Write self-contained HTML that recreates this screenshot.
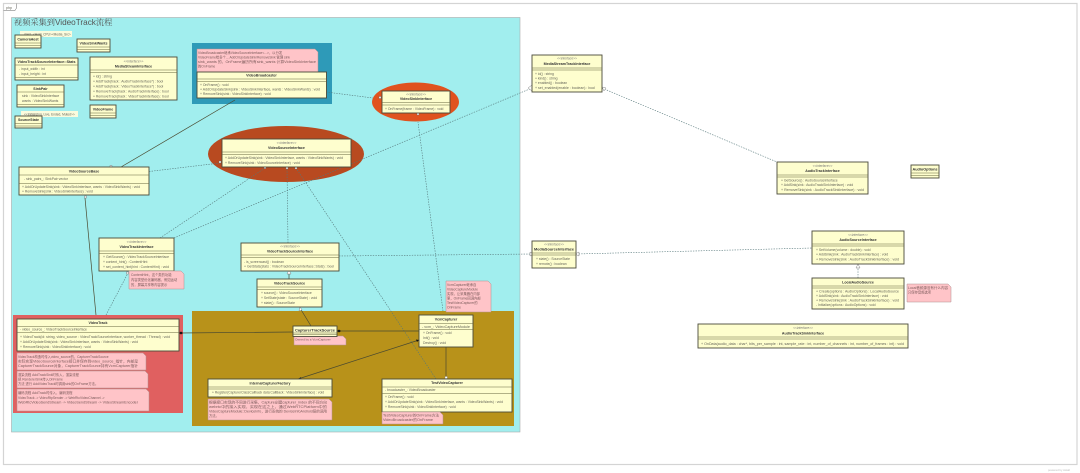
<!DOCTYPE html>
<html><head><meta charset="utf-8">
<style>
html,body{margin:0;padding:0;background:#fff}
svg{display:block}
text{font-family:"Liberation Sans","Noto Sans CJK SC",sans-serif;font-size:3.4px;fill:#66665a}
.t{font-weight:bold;text-anchor:middle;fill:#333;font-size:3.6px}
.s{text-anchor:middle;font-style:italic;fill:#777;font-size:3.2px}
.c{fill:#FEFECE;stroke:#4a4a3a;stroke-width:.9}
.n{fill:#FFC4C8;stroke:#b09090;stroke-width:.5}
.m{fill:#7a5a5a;font-size:3.3px}
.l{fill:none;stroke:#55777a;stroke-width:.6;stroke-dasharray:1.4 1.2}
.p{fill:none;stroke:#4a4a30;stroke-width:.7}
.h{fill:#fff;stroke:#666;stroke-width:.4}
.sep{stroke:#66663f;stroke-width:.5}
</style></head><body>
<svg width="1080" height="473" viewBox="0 0 1080 473" xmlns="http://www.w3.org/2000/svg">
<rect width="1080" height="473" fill="#fff"/>
<rect x="3.5" y="3.5" width="1073.5" height="461" fill="#fff" stroke="#d4d4d4" stroke-width="1.2"/>
<path d="M3.5 10.5H15L16.5 8V3.5" fill="#fff" stroke="#666" stroke-width=".5"/>
<text x="6" y="9" style="font-size:3.6px">php</text>
<text x="1048" y="471" style="font-size:2.8px;fill:#bbb">powered by Astah</text>

<rect x="11.5" y="17.5" width="508.5" height="414.5" fill="#A1EEEE" stroke="#aaa" stroke-width=".6"/>
<text x="14" y="25" style="font-size:8.2px;font-family:'Liberation Sans','Noto Serif CJK SC',serif;fill:#555">视频采集到VideoTrack流程</text>

<rect x="192" y="43" width="140" height="61" fill="#2E9AB8"/>
<rect x="13" y="315" width="170" height="98" fill="#E06060"/>
<rect x="192" y="311" width="322" height="115" fill="#B8921A"/>
<ellipse cx="415.5" cy="102" rx="43.5" ry="19.5" fill="#E0521E"/>
<ellipse cx="286" cy="154" rx="78" ry="28" fill="#B84A20"/>

<!-- connectors -->
<path class="p" d="M235 100L121 167"/>
<path class="l" d="M326 92L373 98"/>
<path class="l" d="M149 171.500L220 163"/>
<path class="l" d="M160 238L265 168"/>
<path class="l" d="M174 238L532 88"/>
<path class="l" d="M288 243L287 168"/>
<path class="p" d="M96 315L85 198"/>
<path class="l" d="M106 315L128 273"/>
<path class="l" d="M436 379L296 168"/>
<path class="l" d="M443 311L418 122"/>
<path class="l" d="M339 256L532 254"/>
<path class="l" d="M576 254L812 248"/>
<path class="l" d="M602 88L777 162"/>
<path class="p" d="M289 279V271"/>
<path class="p" d="M311 326L300 308"/>
<path class="p" d="M180 333L293 332"/>
<path class="p" d="M337 331H419"/>
<path class="p" d="M298 379L419 340"/>
<path class="p" d="M446 347V379"/>
<path class="l" d="M858 278V266"/>

<rect class="h" x="219" y="161" width="2" height="2"/>
<rect class="h" x="264" y="166.500" width="2" height="2"/>
<rect class="h" x="286" y="167" width="2" height="2"/>
<rect class="h" x="295" y="167" width="2" height="2"/>
<rect class="h" x="379" y="96.500" width="2" height="2"/>
<rect class="h" x="417" y="113" width="2" height="2"/>
<rect class="h" x="110" y="165.500" width="2" height="2"/>
<rect class="h" x="84.500" y="196" width="2" height="2"/>
<rect class="h" x="126.500" y="272" width="2" height="2"/>
<path class="h" d="M528 88L532 85V91Z"/>
<path class="h" d="M530 252L534 254L530 256Z"/>
<path class="h" d="M579 252L575 254L579 256Z"/>
<path class="h" d="M602 87L606 88L604 91Z"/>
<path class="h" d="M289 270L291 274H287Z"/>
<path class="h" d="M300 307L302 310L299 311Z"/>
<path class="h" d="M858 264L860 268H856Z"/>
<path d="M179 333L181 331.500L183 333L181 334.500Z" fill="#111"/>
<path d="M337 331L339 329.500L341 331L339 332.500Z" fill="#111"/>
<path d="M419 340L416 339.500L417 342Z" fill="#111"/>
<path d="M298 379L301 377L301 379Z" fill="#333"/>
<rect x="445" y="376.500" width="2.400" height="2" fill="#fff" stroke="#777" stroke-width=".3"/>

<!-- top-left small boxes -->
<rect x="20" y="31" width="52" height="6" fill="#FBFBDD"/>
<text x="24" y="35.500" style="font-size:3.2px">class_&lt;Host_CPU&gt;&lt;Media_Src&gt;</text>
<rect class="c" x="15" y="35" width="26" height="13"/><text class="t" x="28" y="40.500">CameraHost</text><path class="sep" d="M15 43H41M15 45.500H41"/>
<rect class="c" x="77" y="39" width="33" height="13"/><text class="t" x="93.500" y="44.500">VideoSinkWants</text><path class="sep" d="M77 47H110M77 49.500H110"/>
<rect class="c" x="15" y="58" width="63" height="22"/><text class="t" x="46.500" y="63" textLength="58" lengthAdjust="spacingAndGlyphs">VideoTrackSourceInterface::Stats</text><path class="sep" d="M15 65H78M15 77.500H78"/>
<text x="19" y="70">- input_width : int</text><text x="19" y="75">- input_height : int</text>
<rect class="c" x="17" y="85" width="47" height="22"/><text class="t" x="40.500" y="90">SinkPair</text><path class="sep" d="M17 92H64M17 104.500H64"/>
<text x="22" y="97">sink : VideoSinkInterface</text><text x="22" y="102">wants : VideoSinkWants</text>
<rect x="21" y="111" width="57" height="6" fill="#FBFBDD"/>
<text x="24" y="115.500" style="font-size:3.2px">&lt;&lt;Initializing, Live, Ended, Muted&gt;&gt;</text>
<rect class="c" x="15" y="116" width="27" height="12"/><text class="t" x="28.500" y="121">SourceState</text><path class="sep" d="M15 123.500H42M15 126H42"/>

<rect class="c" x="90" y="57" width="87" height="43"/>
<text class="s" x="133.500" y="62.500">&lt;&lt;interface&gt;&gt;</text><text class="t" x="133.500" y="67.500">MediaStreamInterface</text><path class="sep" d="M90 70H177M90 72.500H177"/>
<text x="93" y="77.500">+ id() : string</text>
<text x="93" y="82.500">+ AddTrack(track : AudioTrackInterface*) : bool</text>
<text x="93" y="87.500">+ AddTrack(track : VideoTrackInterface*) : bool</text>
<text x="93" y="92.500">+ RemoveTrack(track : AudioTrackInterface) : bool</text>
<text x="93" y="97.500">+ RemoveTrack(track : VideoTrackInterface) : bool</text>

<rect class="c" x="90" y="105" width="26" height="13"/><text class="t" x="103" y="110.500">VideoFrame</text><path class="sep" d="M90 113H116M90 115.500H116"/>

<!-- VideoBroadcaster -->
<path class="n" d="M197 49H315L318 52V72H197Z"/>
<text class="m" x="198" y="54">VideoBroadcaster继承VideoSourceInterface&lt;...&gt;，以分发</text>
<text class="m" x="198" y="58.500">VideoFrame给多个... AddOrUpdateSink/RemoveSink 管理 sink</text>
<text class="m" x="198" y="63" textLength="118" lengthAdjust="spacingAndGlyphs">sink_wants 的，OnFrame遍历所有sink_wants 计算VideoSinkInterface</text>
<text class="m" x="198" y="67.500">的OnFrame</text>
<rect class="c" x="197" y="72" width="129.500" height="26"/><text class="t" x="261.500" y="76.500">VideoBroadcaster</text><path class="sep" d="M197 79H326.500M197 81.500H326.500"/>
<text x="200" y="86">+ OnFrame() : void</text>
<text x="200" y="90.500" textLength="120" lengthAdjust="spacingAndGlyphs">+ AddOrUpdateSink(sink : VideoSinkInterface, wants : VideoSinkWants) : void</text>
<text x="200" y="95">+ RemoveSink(sink : VideoSinkInterface) : void</text>

<!-- VideoSinkInterface -->
<rect class="c" x="382" y="91" width="68" height="22"/>
<text class="s" x="416" y="95.500">&lt;&lt;interface&gt;&gt;</text><text class="t" x="416" y="100">VideoSinkInterface</text><path class="sep" d="M382 102.500H450M382 105H450"/>
<text x="385" y="110">+ OnFrame(frame : VideoFrame) : void</text>

<!-- VideoSourceInterface -->
<rect class="c" x="222" y="139" width="129" height="28"/>
<text class="s" x="286.500" y="144">&lt;&lt;interface&gt;&gt;</text><text class="t" x="286.500" y="149">VideoSourceInterface</text><path class="sep" d="M222 152H351M222 154.500H351"/>
<text x="225" y="159" textLength="118" lengthAdjust="spacingAndGlyphs">+ AddOrUpdateSink(sink : VideoSinkInterface, wants : VideoSinkWants) : void</text>
<text x="225" y="164">+ RemoveSink(sink : VideoSourceInterface) : void</text>

<!-- VideoSourceBase -->
<rect class="c" x="19" y="167" width="130" height="28"/>
<text class="t" x="84" y="172.500">VideoSourceBase</text><path class="sep" d="M19 175H149M19 183.500H149"/>
<text x="24" y="180">- sink_pairs_: SinkPair vector</text>
<text x="22" y="188" textLength="118" lengthAdjust="spacingAndGlyphs">+ AddOrUpdateSink(sink : VideoSinkInterface, wants : VideoSinkWants) : void</text>
<text x="22" y="192.500">+ RemoveSink(sink : VideoSinkInterface) : void</text>

<!-- VideoTrackInterface -->
<rect class="c" x="99" y="238" width="75" height="33"/>
<text class="s" x="136.500" y="243">&lt;&lt;interface&gt;&gt;</text><text class="t" x="136.500" y="248">VideoTrackInterface</text><path class="sep" d="M99 251H174M99 253.500H174"/>
<text x="103" y="258" textLength="66" lengthAdjust="spacingAndGlyphs">+ GetSource() : VideoTrackSourceInterface</text>
<text x="103" y="263">+ content_hint() : ContentHint</text>
<text x="103" y="268" textLength="66" lengthAdjust="spacingAndGlyphs">+ set_content_hint(hint : ContentHint) : void</text>
<path class="n" d="M129 271H181L184 274V289H129Z"/>
<text class="m" x="131" y="276">ContentHint，这个类的功能</text>
<text class="m" x="131" y="281">内容类型优化编码器，例如运动</text>
<text class="m" x="131" y="286">的，屏幕共享等内容提示</text>

<!-- VideoTrack -->
<rect class="c" x="17" y="319" width="162" height="32"/>
<text class="t" x="98" y="324">VideoTrack</text><path class="sep" d="M17 326.500H179M17 332.500H179"/>
<text x="20" y="330.500">- video_source_: VideoTrackSourceInterface</text>
<text x="20" y="338" textLength="150" lengthAdjust="spacingAndGlyphs">+ VideoTrack(id: string, video_source : VideoTrackSourceInterface, worker_thread : Thread) : void</text>
<text x="20" y="343" textLength="118" lengthAdjust="spacingAndGlyphs">+ AddOrUpdateSink(sink : VideoSinkInterface, wants : VideoSinkWants) : void</text>
<text x="20" y="348">+ RemoveSink(sink : VideoSinkInterface) : void</text>
<path class="n" d="M17 353H143L146 356V370H17Z"/>
<text class="m" x="18" y="358">VideoTrack构造时传入video_source的，CapturerTrackSource</text>
<text class="m" x="18" y="362.500" textLength="120" lengthAdjust="spacingAndGlyphs">实际实现VideoSourceInterface接口并保存到video_source_指针，内部是</text>
<text class="m" x="18" y="367" textLength="120" lengthAdjust="spacingAndGlyphs">CapturerTrackSource对象，CapturerTrackSource持有VcmCapturer指针</text>
<path class="n" d="M17 371H145L148 374V388H17Z"/>
<text class="m" x="18" y="376">渲染流程 AddTrackSink时传入，渲染流程</text>
<text class="m" x="18" y="380.500">把 RendererSink传入OnFrame</text>
<text class="m" x="18" y="385">方法 进行 AddVideoTrack时调用sink的OnFrame方法。</text>
<path class="n" d="M17 389H146L149 392V411H17Z"/>
<text class="m" x="18" y="394">编码流程 AddTrack时传入，编码流程</text>
<text class="m" x="18" y="399">VideoTrack -&gt; VideoRtpSender -&gt; WebRtcVideoChannel -&gt;</text>
<text class="m" x="18" y="403.500" textLength="120" lengthAdjust="spacingAndGlyphs">WebRtcVideoSendStream -&gt; VideoSendStream -&gt; VideoStreamEncoder</text>

<!-- VideoTrackSourceInterface -->
<rect class="c" x="241" y="243" width="98" height="28"/>
<text class="s" x="290" y="247.500">&lt;&lt;interface&gt;&gt;</text><text class="t" x="290" y="252.500">VideoTrackSourceInterface</text><path class="sep" d="M241 255H339M241 257.500H339"/>
<text x="244" y="263">- is_screencast() : boolean</text>
<text x="244" y="267.500" textLength="90" lengthAdjust="spacingAndGlyphs">+ GetStats(stats : VideoTrackSourceInterface::Stats) : bool</text>

<!-- VideoTrackSource -->
<rect class="c" x="257" y="279" width="65" height="28"/>
<text class="t" x="289.500" y="284.500">VideoTrackSource</text><path class="sep" d="M257 287H322M257 289.500H322"/>
<text x="261" y="294">+ source() : VideoSourceInterface</text>
<text x="261" y="299">+ SetState(state : SourceState) : void</text>
<text x="261" y="304">+ state() : SourceState</text>

<!-- CapturerTrackSource -->
<path class="n" d="M294 336H343L346 339V345H294Z"/>
<text class="m" x="295" y="340.500" style="font-size:3.1px">Owned by a VcmCapturer</text>
<rect class="c" x="293" y="326" width="44" height="10.500"/><text class="t" x="315" y="331.500" textLength="40" lengthAdjust="spacingAndGlyphs">CapturerTrackSource</text><path class="sep" d="M293 333H337M293 334.700H337"/>

<!-- factory -->
<rect class="c" x="208" y="379" width="124" height="18"/>
<text class="t" x="270" y="384.500">InternalCapturerFactory</text><path class="sep" d="M208 387H332M208 389H332"/>
<text x="212" y="393.500" textLength="112" lengthAdjust="spacingAndGlyphs">+ Register(CapturerClassCallback data:CallBack : VideoSinkInterface) : void</text>
<path class="n" d="M208 399H329L332 402V420H208Z"/>
<text class="m" x="209" y="403.500" textLength="118" lengthAdjust="spacingAndGlyphs">根据接口实现的不同进行采集，Capture创建capturer_index 的不同方向</text>
<text class="m" x="209" y="408" textLength="118" lengthAdjust="spacingAndGlyphs">webrtc中的接入实现，实现在这之上，通过WebRTCPlatform中的</text>
<text class="m" x="209" y="412.500" textLength="118" lengthAdjust="spacingAndGlyphs">VideoCaptureModule::DeviceInfo，进行系统的 DeviceInfoAndroid层的调用</text>
<text class="m" x="209" y="417">方法。</text>

<!-- VcmCapturer -->
<path class="n" d="M446 281H488L491 284V312H446Z"/>
<text class="m" x="447" y="286">VcmCapturer继承自</text>
<text class="m" x="447" y="290.500">VideoCaptureModule</text>
<text class="m" x="447" y="295">实现，让采集器在内部</text>
<text class="m" x="447" y="299.500">里，OnFrame回调内部</text>
<text class="m" x="447" y="304">TestVideoCapturer的</text>
<text class="m" x="447" y="308.500">OnFrame</text>
<rect class="c" x="419" y="315" width="54" height="32"/>
<text class="t" x="446" y="320.500">VcmCapturer</text><path class="sep" d="M419 323.500H473M419 329.500H473"/>
<text x="422" y="327.800" textLength="48" lengthAdjust="spacingAndGlyphs">- vcm_: VideoCaptureModule</text>
<text x="423" y="334">+ OnFrame() : void</text>
<text x="423" y="339">Init() : void</text>
<text x="423" y="344">Destroy() : void</text>

<!-- TestVideoCapturer -->
<rect class="c" x="382" y="379" width="130" height="33"/>
<text class="t" x="447" y="384">TestVideoCapturer</text><path class="sep" d="M382 387H512M382 393.500H512"/>
<text x="385" y="391">- broadcaster_: VideoBroadcaster</text>
<text x="385" y="398">+ OnFrame() : void</text>
<text x="385" y="403" textLength="118" lengthAdjust="spacingAndGlyphs">+ AddOrUpdateSink(sink : VideoSinkInterface, wants : VideoSinkWants) : void</text>
<text x="385" y="408">+ RemoveSink(sink : VideoSinkInterface) : void</text>
<path class="n" d="M382 412H440L443 415V424H382Z"/>
<text class="m" x="383" y="416.500" textLength="56" lengthAdjust="spacingAndGlyphs">TestVideoCapturer的OnFrame方法</text>
<text class="m" x="383" y="421" textLength="50" lengthAdjust="spacingAndGlyphs">VideoBroadcaster的OnFrame</text>

<!-- right side -->
<rect class="c" x="532" y="241" width="44" height="27"/>
<text class="s" x="554" y="245.500">&lt;&lt;interface&gt;&gt;</text><text class="t" x="554" y="250.500" textLength="40" lengthAdjust="spacingAndGlyphs">MediaSourceInterface</text><path class="sep" d="M532 253H576M532 255H576"/>
<text x="536" y="260">+ state() : SourceState</text><text x="536" y="265">+ remote() : boolean</text>

<rect class="c" x="532" y="55" width="70" height="37"/>
<text class="s" x="567" y="59.500">&lt;&lt;interface&gt;&gt;</text><text class="t" x="567" y="65">MediaStreamTrackInterface</text><path class="sep" d="M532 68H602M532 70H602"/>
<text x="535" y="75">+ id() : string</text><text x="535" y="79.500">+ kind() : string</text><text x="535" y="84">+ enabled() : boolean</text><text x="535" y="89" textLength="60" lengthAdjust="spacingAndGlyphs">+ set_enabled(enable : boolean) : bool</text>

<rect class="c" x="777" y="162" width="91" height="32"/>
<text class="s" x="822.500" y="167">&lt;&lt;interface&gt;&gt;</text><text class="t" x="822.500" y="172">AudioTrackInterface</text><path class="sep" d="M777 175H868M777 177H868"/>
<text x="781" y="181.500">+ GetSource() : AudioSourceInterface</text>
<text x="781" y="186">+ AddSink(sink : AudioTrackSinkInterface) : void</text>
<text x="781" y="191" textLength="83" lengthAdjust="spacingAndGlyphs">+ RemoveSink(sink : AudioTrackSinkInterface) : void</text>

<rect class="c" x="911" y="165" width="28" height="13"/><text class="t" x="925" y="170.500" textLength="25" lengthAdjust="spacingAndGlyphs">AudioOptions</text><path class="sep" d="M911 173H939M911 175.500H939"/>

<rect class="c" x="812" y="231" width="92" height="33"/>
<text class="s" x="858" y="236">&lt;&lt;interface&gt;&gt;</text><text class="t" x="858" y="241">AudioSourceInterface</text><path class="sep" d="M812 244H904M812 246H904"/>
<text x="816" y="251">+ SetVolume(volume : double) : void</text>
<text x="816" y="255.500">+ AddSink(sink : AudioTrackSinkInterface) : void</text>
<text x="816" y="260.500" textLength="83" lengthAdjust="spacingAndGlyphs">+ RemoveSink(sink : AudioTrackSinkInterface) : void</text>

<rect class="c" x="812" y="278" width="92" height="31"/>
<text class="t" x="858" y="283.500">LocalAudioSource</text><path class="sep" d="M812 286H904M812 288H904"/>
<text x="816" y="292.500" textLength="83" lengthAdjust="spacingAndGlyphs">+ Create(options : AudioOptions) : LocalAudioSource</text>
<text x="816" y="297">+ AddSink(sink : AudioTrackSinkInterface) : void</text>
<text x="816" y="301.500" textLength="83" lengthAdjust="spacingAndGlyphs">+ RemoveSink(sink : AudioTrackSinkInterface) : void</text>
<text x="816" y="306">- Initialize(options : AudioOptions) : void</text>

<path class="n" d="M907 284H948L951 287V302H907Z"/>
<text class="m" x="908" y="289" textLength="40" lengthAdjust="spacingAndGlyphs">Local音频源没有什么内容</text>
<text class="m" x="908" y="293.500">只保存音频选项</text>

<rect class="c" x="698" y="324" width="210" height="24"/>
<text class="s" x="803" y="329">&lt;&lt;interface&gt;&gt;</text><text class="t" x="803" y="334.500">AudioTrackSinkInterface</text><path class="sep" d="M698 337H908M698 339H908"/>
<text x="701" y="345" textLength="203" lengthAdjust="spacingAndGlyphs">+ OnData(audio_data : char*, bits_per_sample : int, sample_rate : int, number_of_channels : int, number_of_frames : int) : void</text>
</svg>
</body></html>
